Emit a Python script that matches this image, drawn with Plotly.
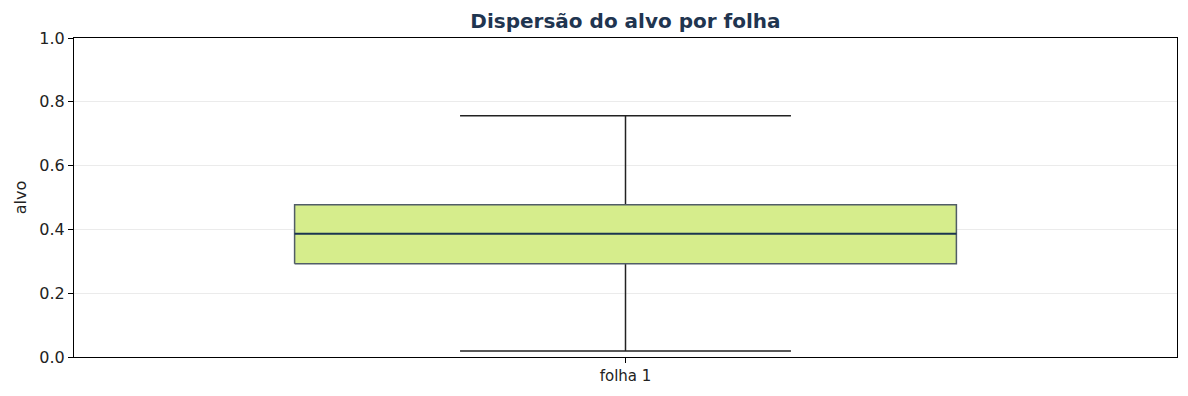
import plotly.graph_objects as go

categories = ["folha 1"]
lower_whisker = [0.019]
q1 = [0.292]
median = [0.386]
q3 = [0.477]
upper_whisker = [0.756]
y_ticks = [0.0, 0.2, 0.4, 0.6, 0.8, 1.0]

BOX_HALF = 0.3
CAP_HALF = 0.15

fig = go.Figure()
for i, cat in enumerate(categories):
    x0 = i
    # whiskers
    fig.add_trace(go.Scatter(
        x=[x0, x0, None, x0, x0],
        y=[q3[i], upper_whisker[i], None, q1[i], lower_whisker[i]],
        mode="lines", line=dict(color="#222222", width=1.5),
        hoverinfo="skip", showlegend=False))
    # caps
    fig.add_trace(go.Scatter(
        x=[x0 - CAP_HALF, x0 + CAP_HALF, None, x0 - CAP_HALF, x0 + CAP_HALF],
        y=[upper_whisker[i], upper_whisker[i], None, lower_whisker[i], lower_whisker[i]],
        mode="lines", line=dict(color="#222222", width=1.5),
        hoverinfo="skip", showlegend=False))
    # box
    fig.add_trace(go.Scatter(
        x=[x0 - BOX_HALF, x0 + BOX_HALF, x0 + BOX_HALF, x0 - BOX_HALF, x0 - BOX_HALF],
        y=[q1[i], q1[i], q3[i], q3[i], q1[i]],
        mode="lines", fill="toself", fillcolor="#d6ed8c",
        line=dict(color="#515d67", width=1.5),
        hoverinfo="skip", showlegend=False))
    # median
    fig.add_trace(go.Scatter(
        x=[x0 - BOX_HALF, x0 + BOX_HALF],
        y=[median[i], median[i]],
        mode="lines", line=dict(color="#1b3550", width=2),
        hoverinfo="skip", showlegend=False))

fig.update_layout(
    width=1188, height=396,
    margin=dict(l=74, r=11, t=38, b=39),
    paper_bgcolor="white", plot_bgcolor="white",
    font=dict(family="DejaVu Sans", color="#222222"),
    title=dict(text="<b>Dispersão do alvo por folha</b>", x=0.5265, xanchor="center",
               y=0.947, yanchor="middle",
               font=dict(size=20, color="#1f3550", family="DejaVu Sans")),
    xaxis=dict(range=[-0.5, len(categories) - 0.5], tickvals=list(range(len(categories))),
               ticktext=categories, showgrid=False, zeroline=False,
               showline=True, linecolor="black", linewidth=1, mirror=True,
               ticks="outside", ticklen=5, tickcolor="black",
               tickfont=dict(size=15, color="#222222")),
    yaxis=dict(range=[0, 1], tickvals=y_ticks, ticktext=[f"{v:.1f}" for v in y_ticks],
               showgrid=True, gridcolor="#ebebeb", gridwidth=1, zeroline=False,
               showline=True, linecolor="black", linewidth=1, mirror=True,
               ticks="outside", ticklen=5, tickcolor="black",
               tickfont=dict(size=16, color="#222222"),
               title=dict(text="alvo", font=dict(size=16, color="#222222"), standoff=8)),
)

fig.write_html("out.html")
